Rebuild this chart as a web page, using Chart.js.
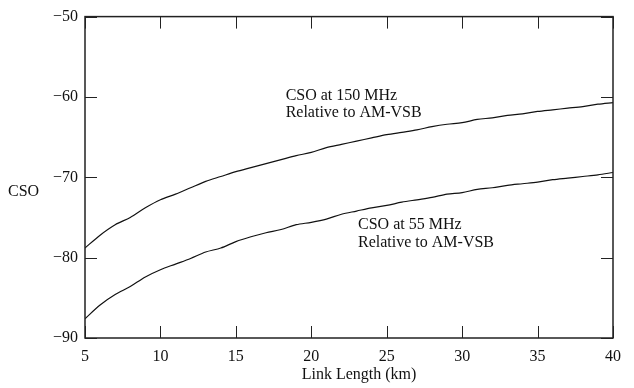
<!DOCTYPE html>
<html>
<head>
<meta charset="utf-8">
<script src="https://cdn.jsdelivr.net/npm/chart.js@4/dist/chart.umd.min.js"></script>
<style>
  html, body { margin: 0; padding: 0; background: #fff; }
  canvas { display: block; }
</style>
</head>
<body>
<canvas id="grafico" width="634" height="388"></canvas>
<script>
// link length (km)
const comprimentos = [5, 6, 7, 8, 9, 10, 11, 12, 13, 14, 15, 16, 17, 18, 19, 20, 21, 22, 23, 24,
  25, 26, 27, 28, 29, 30, 31, 32, 33, 34, 35, 36, 37, 38, 39, 40];

// CSO at 150 MHz relative to AM-VSB
const cso150 = [-78.8, -77.2, -75.9, -75.0, -73.8, -72.8, -72.1, -71.3, -70.5, -69.9,
  -69.3, -68.8, -68.3, -67.8, -67.3, -66.9, -66.3, -65.9, -65.5, -65.1,
  -64.7, -64.4, -64.1, -63.7, -63.4, -63.2, -62.8, -62.6, -62.3, -62.1,
  -61.8, -61.6, -61.4, -61.2, -60.9, -60.7];

// CSO at 55 MHz relative to AM-VSB
const cso55 = [-87.6, -85.9, -84.6, -83.6, -82.4, -81.5, -80.8, -80.1, -79.3, -78.8,
  -78.0, -77.4, -76.9, -76.5, -75.9, -75.6, -75.2, -74.6, -74.2, -73.8,
  -73.5, -73.1, -72.8, -72.5, -72.1, -71.9, -71.5, -71.3, -71.0, -70.8,
  -70.6, -70.3, -70.1, -69.9, -69.7, -69.4];

const ticksX = [5, 10, 15, 20, 25, 30, 35, 40];
const ticksY = [-50, -60, -70, -80, -90];

// labels placed at data coordinates
const rotulos = [
  { x: 18.3, y: -59.9, texto: 'CSO at 150 MHz' },
  { x: 18.3, y: -62.0, texto: 'Relative to AM-VSB' },
  { x: 23.1, y: -75.9, texto: 'CSO at 55 MHz' },
  { x: 23.1, y: -78.1, texto: 'Relative to AM-VSB' }
];

const fonte = '"Liberation Serif", "Times New Roman", serif';
Chart.defaults.font.family = fonte;
Chart.defaults.color = '#111';

const moldura = {
  id: 'moldura',
  afterDraw(chart) {
    const { ctx, chartArea: a, scales: { x, y } } = chart;
    ctx.save();
    ctx.strokeStyle = '#222';
    ctx.lineWidth = 1.5;
    ctx.strokeRect(a.left, a.top, a.right - a.left, a.bottom - a.top);

    // inward ticks on all four sides
    const t = 12;
    ctx.lineWidth = 1;
    ticksX.forEach(v => {
      const px = Math.round(x.getPixelForValue(v)) + 0.5;
      ctx.beginPath();
      ctx.moveTo(px, a.bottom); ctx.lineTo(px, a.bottom - t);
      ctx.moveTo(px, a.top); ctx.lineTo(px, a.top + t);
      ctx.stroke();
    });
    ticksY.forEach(v => {
      const py = Math.round(y.getPixelForValue(v)) + 0.5;
      ctx.beginPath();
      ctx.moveTo(a.left, py); ctx.lineTo(a.left + t, py);
      ctx.moveTo(a.right, py); ctx.lineTo(a.right - t, py);
      ctx.stroke();
    });

    ctx.fillStyle = '#111';
    ctx.font = '16px ' + fonte;
    ctx.textBaseline = 'middle';
    ctx.textAlign = 'left';
    rotulos.forEach(r => {
      ctx.fillText(r.texto, x.getPixelForValue(r.x), y.getPixelForValue(r.y));
    });

    // axis titles
    ctx.fillText('CSO', 8, 192);
    ctx.textAlign = 'center';
    ctx.fillText('Link Length (km)', 359, 375);
    ctx.restore();
  }
};

const estiloLinha = {
  borderColor: '#111',
  borderWidth: 1.2,
  pointRadius: 0,
  tension: 0.3,
  fill: false
};

new Chart(document.getElementById('grafico'), {
  type: 'line',
  data: {
    datasets: [
      { label: 'CSO at 150 MHz', data: comprimentos.map((k, i) => ({ x: k, y: cso150[i] })), ...estiloLinha },
      { label: 'CSO at 55 MHz', data: comprimentos.map((k, i) => ({ x: k, y: cso55[i] })), ...estiloLinha }
    ]
  },
  options: {
    responsive: false,
    animation: false,
    layout: { padding: { top: 13, right: 21, left: 0, bottom: 0 } },
    plugins: { legend: { display: false }, tooltip: { enabled: false } },
    scales: {
      x: {
        type: 'linear',
        min: 5,
        max: 40,
        afterBuildTicks: s => { s.ticks = ticksX.map(v => ({ value: v })); },
        afterFit: s => { s.height = 50; },
        grid: { display: false, drawTicks: false },
        border: { display: false },
        ticks: { padding: 9, font: { size: 16 }, color: '#111', maxRotation: 0 }
      },
      y: {
        type: 'linear',
        min: -90,
        max: -50,
        afterBuildTicks: s => { s.ticks = ticksY.map(v => ({ value: v })); },
        afterFit: s => { s.width = 85; },
        grid: { display: false, drawTicks: false },
        border: { display: false },
        ticks: {
          padding: 7,
          font: { size: 16 },
          color: '#111',
          callback: v => '\u2212' + Math.abs(v)
        }
      }
    }
  },
  plugins: [moldura]
});
</script>
</body>
</html>
